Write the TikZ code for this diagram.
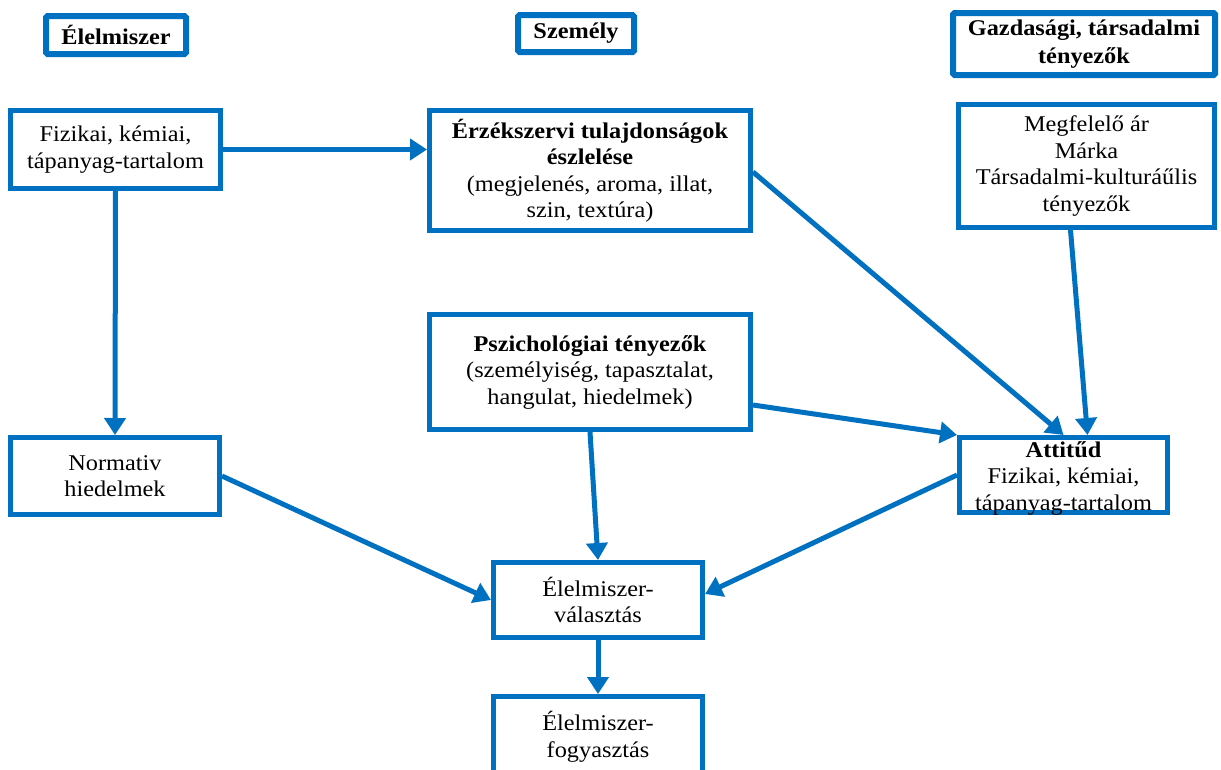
\documentclass[tikz,border=0pt]{standalone}
\usepackage{fontspec}
\setmainfont[FakeStretch=1.08]{Liberation Serif}
\usetikzlibrary{arrows.meta}
\definecolor{boxblue}{RGB}{0,112,192}
\begin{document}
\begin{tikzpicture}[x=1pt,y=-1pt,
  txt/.style={align=center, inner sep=0pt, text=black,
    font=\fontsize{22.5}{26.5}\selectfont},
  box/.style={txt, draw=boxblue, line width=5pt},
  head/.style={box, line width=6pt, rounded corners=1.5pt,
    font=\fontsize{22.5}{28}\selectfont\bfseries},
  link/.style={draw=boxblue, line width=5pt, -{Triangle[length=17pt,width=21pt]}}]
\useasboundingbox (0,0) rectangle (1221,769);

% column headers
\node[head, minimum width=140, minimum height=38] (hdrA) at (116,35) {Élelmiszer};
\node[head, minimum width=116, minimum height=37] (hdrB) at (576,33.5) {Személy};
\node[head, minimum width=262, minimum height=62] (hdrC) at (1084,44) {Gazdasági, társadalmi\\tényezők};

% boxes
\node[box, minimum width=210, minimum height=78] (fiz) at (115.5,149.5) {Fizikai, kémiai,\\tápanyag-tartalom};
\node[box, minimum width=321, minimum height=120] (erz) at (590,170.5)
  {\textbf{Érzékszervi tulajdonságok}\\\textbf{észlelése}\\(megjelenés, aroma, illat,\\szin, textúra)};
\node[box, minimum width=256, minimum height=123] (meg) at (1086.5,166)
  {Megfelelő ár\\Márka\\Társadalmi-kulturáűlis\\tényezők};
\node[box, minimum width=321, minimum height=115] (psy) at (590,372)
  {\textbf{Pszichológiai tényezők}\\(személyiség, tapasztalat,\\hangulat, hiedelmek)};
% the attitude box is tight, so its text is set a little lower as its own node
\node[box, minimum width=208, minimum height=75] (att) at (1063.5,475) {};
\node[txt] (attLbl) at ([yshift=-3pt]att.center)
  {\textbf{Attitűd}\\Fizikai, kémiai,\\tápanyag-tartalom};
\node[box, minimum width=209, minimum height=77] (norm) at (115,476) {Normativ\\hiedelmek};
\node[box, minimum width=209, minimum height=75] (val) at (598,600) {Élelmiszer-\\választás};
\node[box, minimum width=209, minimum height=81] (fog) at (598,737) {Élelmiszer-\\fogyasztás};

% connectors
\draw[link] (fiz.east) -- (erz.west |- fiz.east);
\draw[link] (fiz.south) -- (norm.north);
\draw[link] ([yshift=-1.5pt]erz.east) -- (att.north);
\draw[link] ([xshift=-16pt]meg.south) -- ([xshift=24pt]att.north);
\draw[link] ([yshift=-33pt]psy.east) -- (att.north west);
\draw[link] (psy.south) -- (val.north);
\draw[link] (norm.east) -- (val.west);
\draw[link] (att.west) -- ([yshift=6pt]val.east);
\draw[link] (val.south) -- (fog.north);
\end{tikzpicture}
\end{document}
